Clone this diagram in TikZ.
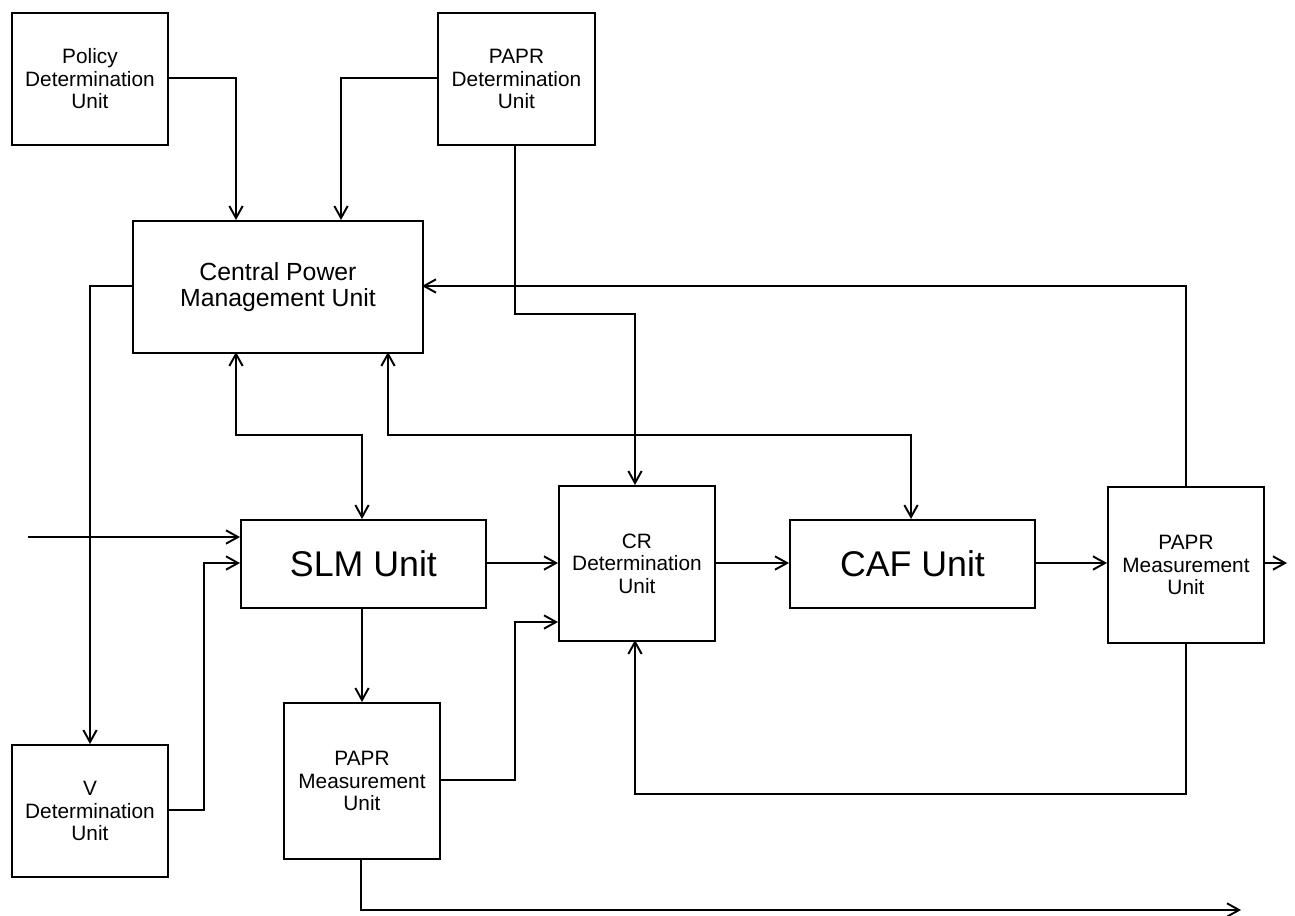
\documentclass[tikz,border=0pt]{standalone}
\usepackage{fontspec}
\setmainfont{Liberation Sans}
\usetikzlibrary{arrows.meta}
\begin{document}
\begin{tikzpicture}[x=0.75pt,y=-0.75pt,
  line width=1.45pt,
  >={Straight Barb[length=9pt,width=10pt]},
  box/.style={draw,rectangle,inner sep=0pt,align=center,anchor=north west},
  small/.style={font=\fontsize{15.6}{16.9}\selectfont},
  mid/.style={font=\fontsize{18.6}{19.5}\selectfont},
  big/.style={font=\fontsize{26.8}{30}\selectfont},
  conn/.style={->}]
\useasboundingbox (0,0) rectangle (1295,916);
% boxes
\node[box,small,minimum width=156*0.75pt,minimum height=132*0.75pt] (pol) at (11,12) {Policy\\Determination\\Unit};
\node[box,small,minimum width=157*0.75pt,minimum height=132*0.75pt] (ppd) at (437,12) {PAPR\\Determination\\Unit};
\node[box,mid,minimum width=290*0.75pt,minimum height=132*0.75pt] (cpm) at (132,220) {Central Power\\Management Unit};
\node[box,big,minimum width=245*0.75pt,minimum height=88*0.75pt] (slm) at (240,519) {SLM Unit};
\node[box,small,minimum width=156*0.75pt,minimum height=155*0.75pt] (cr) at (558,485) {CR\\Determination\\Unit};
\node[box,big,minimum width=245*0.75pt,minimum height=88*0.75pt] (caf) at (789,519) {CAF Unit};
\node[box,small,minimum width=156*0.75pt,minimum height=156*0.75pt] (pmr) at (1107,486) {PAPR\\Measurement\\Unit};
\node[box,small,minimum width=156*0.75pt,minimum height=132*0.75pt] (vd) at (11,744) {V\\Determination\\Unit};
\node[box,small,minimum width=156*0.75pt,minimum height=156*0.75pt] (pmb) at (283,702) {PAPR\\Measurement\\Unit};
% free ends
\coordinate (in) at (28,537);
\coordinate (outr) at (1287,563);
\coordinate (outb) at (1241,910);
% connectors
\draw[conn] (pol.east |- 0,78) -| (236,220);
\draw[conn] (ppd.west |- 0,78) -| (341,220);
\draw[conn] (515,144) |- (635,314) -- (635,485);
\draw[conn] (cpm.west |- 0,286) -| (90,744);
\draw[<->] (236,352) |- (362,435) -- (362,519);
\draw[<->] (388,352) |- (911,435) -- (911,519);
\draw[conn] (1186,486) |- (422,286);
\draw[conn] (in) -- (240,537);
\draw[conn] (167,810) -| (204,563) -- (240,563);
\draw[conn] (485,563) -- (558,563);
\draw[conn] (362,607) -- (362,702);
\draw[conn] (439,780) -| (515,622) -- (558,622);
\draw[conn] (714,563) -- (789,563);
\draw[conn] (1034,563) -- (1107,563);
\draw[conn] (1263,563) -- (outr);
\draw[conn] (1186,642) |- (635,794) -- (635,640);
\draw[conn] (361,858) |- (outb);
\end{tikzpicture}
\end{document}
